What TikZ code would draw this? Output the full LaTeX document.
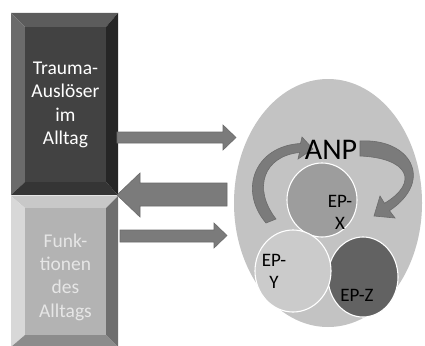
\documentclass[tikz,border=0pt]{standalone}
\usepackage{fontspec}
\setmainfont{Carlito}
\usetikzlibrary{shapes.geometric}
\definecolor{tbTop}{HTML}{5C5C5C}
\definecolor{tbLeft}{HTML}{6B6B6B}
\definecolor{tbRight}{HTML}{262626}
\definecolor{tbBot}{HTML}{353535}
\definecolor{tbFace}{HTML}{424242}
\definecolor{bbTop}{HTML}{C8C8C8}
\definecolor{bbLeft}{HTML}{D8D8D8}
\definecolor{bbRight}{HTML}{6F6F6F}
\definecolor{bbBot}{HTML}{8C8C8C}
\definecolor{bbFace}{HTML}{B3B3B3}
\definecolor{arrowFill}{HTML}{7B7B7B}
\definecolor{arrowLine}{HTML}{6B6B6B}
\definecolor{bigEll}{HTML}{C3C3C3}
\definecolor{epxCol}{HTML}{9D9D9D}
\definecolor{epyCol}{HTML}{CBCBCB}
\definecolor{epzCol}{HTML}{626262}
\definecolor{lightText}{HTML}{E6E6E6}
\begin{document}
\begin{tikzpicture}[x=1pt,y=-1pt,
  blockarrow/.style={fill=arrowFill,draw=arrowLine,line width=0.6pt,line join=miter},
  epcircle/.style={ellipse,draw=white,line width=1.1pt,inner sep=0pt},
  boxtext/.style={align=center,font=\fontsize{19.5}{23.3}\selectfont},
  eptext/.style={align=center,font=\fontsize{19}{22}\selectfont,text=black}]
\clip (0,0) rectangle (425,345);
\fill[white] (0,0) rectangle (425,345);
% top box (bevel)
\fill[tbTop] (11,13)--(118,13)--(106,27)--(25,27)--cycle;
\fill[tbLeft] (11,13)--(25,27)--(25,182)--(11,195)--cycle;
\fill[tbRight] (118,13)--(118,195)--(106,182)--(106,27)--cycle;
\fill[tbBot] (11,195)--(118,195)--(106,182)--(25,182)--cycle;
\node[fill=tbFace,minimum width=81pt,minimum height=155pt,inner sep=0pt,anchor=north west] (trauma) at (25,27) {};
\node[boxtext,text=white] (traumatext) at (65.5,105) {Trauma-\\Auslöser\\im\\Alltag};
% bottom box (bevel)
\fill[bbTop] (11,196)--(118,196)--(106,208)--(25,208)--cycle;
\fill[bbLeft] (11,196)--(25,208)--(25,335)--(11,347)--cycle;
\fill[bbRight] (118,196)--(118,347)--(106,335)--(106,208)--cycle;
\fill[bbBot] (11,347)--(118,347)--(106,335)--(25,335)--cycle;
\node[fill=bbFace,minimum width=81pt,minimum height=127pt,inner sep=0pt,anchor=north west] (funk) at (25,208) {};
\node[boxtext,text=lightText] (funktext) at (65.5,277) {Funk-\\tionen\\des\\Alltags};
% straight block arrows
\draw[blockarrow] (117,132)--(223,132)--(223,125)--(236,137.5)--(223,150)--(223,143)--(117,143)--cycle;
\draw[blockarrow] (227,183)--(140,183)--(140,173)--(117,195)--(140,217)--(140,206)--(227,206)--cycle;
\draw[blockarrow] (120,230)--(214,230)--(214,223)--(227,235.5)--(214,248)--(214,242)--(120,242)--cycle;
% big ellipse
\node[ellipse,fill=bigEll,minimum width=188pt,minimum height=248pt,inner sep=0pt] (anpell) at (328,203) {};
% curved arrows
\draw[blockarrow] (266,223) .. controls (238,190) and (255,146) .. (300.5,143.5) -- (302,137) -- (313,149) -- (298,159) -- (299.5,152.5) .. controls (264,156) and (252,188) .. (276,219) -- cycle;
\draw[blockarrow] (360,141) .. controls (410,138) and (435,180) .. (389.5,210.7) -- (395,218) -- (374,216) -- (380,196) -- (384.5,203.3) .. controls (420,182) and (408,158) .. (360,156) -- cycle;
% EP circles
\node[epcircle,fill=epxCol,minimum width=70pt,minimum height=74pt] (epx) at (322,200) {};
\node[epcircle,fill=epzCol,minimum width=70pt,minimum height=80pt] (epz) at (363,277) {};
\node[epcircle,fill=epyCol,minimum width=76pt,minimum height=82pt] (epy) at (293,271) {};
% texts
\node[font=\fontsize{30}{36}\selectfont,text=black] (anp) at (331,150) {ANP};
\node[eptext] (epxtext) at (340,212) {EP-\\X};
\node[eptext] (epytext) at (274,271) {EP-\\Y};
\node[eptext] (epztext) at (357,295) {EP-Z};
\end{tikzpicture}
\end{document}
